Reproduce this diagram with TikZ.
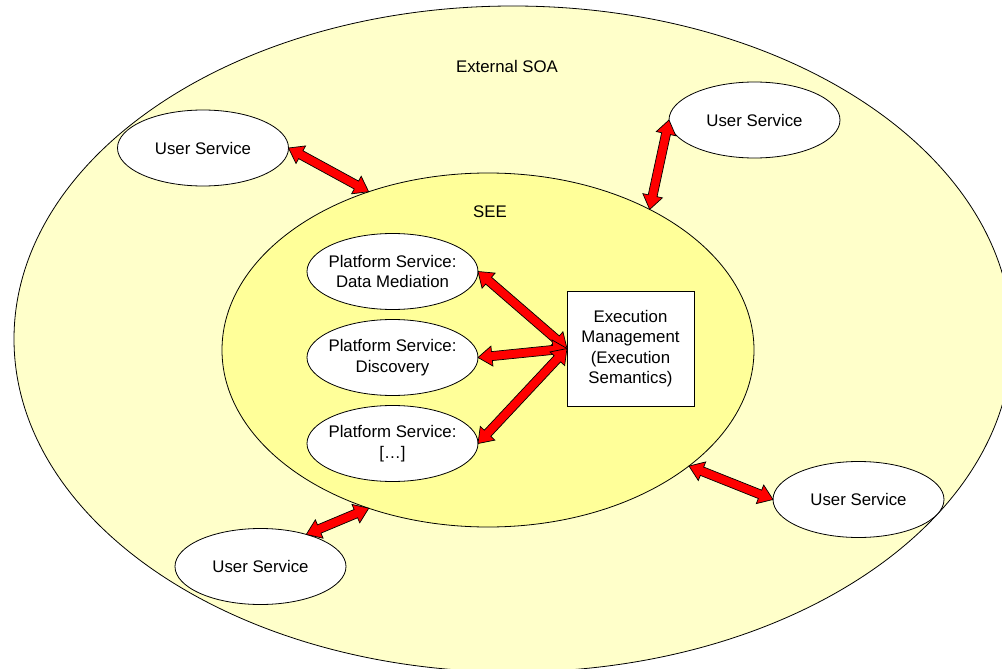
\documentclass[tikz,border=0pt]{standalone}
\usepackage{fontspec}
\setmainfont{Liberation Sans}
\usetikzlibrary{shapes.geometric,calc}
\definecolor{soafill}{HTML}{FFFFCA}
\definecolor{seefill}{HTML}{FFFF99}
\tikzset{
  txt/.style={font=\fontsize{16.8}{20.5}\selectfont, align=center, inner sep=0pt},
  oval/.style={ellipse, draw=black, line width=0.8pt, fill=white, inner sep=0pt, outer sep=0pt,
               minimum width=171pt, minimum height=76pt},
  fatarrow/.style={draw=black, line width=0.7pt, fill=red, line join=miter}
}
\newcommand\fatarrow[2]{%
  \path[fatarrow] let \p1=(#1), \p2=(#2),
    \n1={atan2(\y2-\y1,\x2-\x1)}, \n2={veclen(\x2-\x1,\y2-\y1)} in
    [shift={(\p1)}, rotate=\n1]
    (0pt,0pt) -- (14pt,10pt) -- (14pt,4.5pt) -- (\n2-14pt,4.5pt) -- (\n2-14pt,10pt) -- (\n2,0pt)
    -- (\n2-14pt,-10pt) -- (\n2-14pt,-4.5pt) -- (14pt,-4.5pt) -- (14pt,-10pt) -- cycle;}
\begin{document}
\begin{tikzpicture}[x=1pt,y=-1pt]
\useasboundingbox (0,0) rectangle (1002,669);
\clip (0,0) rectangle (1002,669);
\fill[white] (0,0) rectangle (1002,669);
% outer SOA
\node[ellipse, draw=black, line width=0.8pt, fill=soafill, inner sep=0pt,
      minimum width=998pt, minimum height=666pt] (soa) at (513,339) {};
\node[txt] (soalbl) at (507,66) {External SOA};
% SEE
\node[ellipse, draw=black, line width=0.8pt, fill=seefill, inner sep=0pt, outer sep=0pt,
      minimum width=532pt, minimum height=354pt] (see) at (488,350) {};
\node[txt] (seelbl) at (490,212) {SEE};
% user services
\node[oval, label={[txt]center:User Service}] (us1) at (203,148) {};
\node[oval, label={[txt]center:User Service}] (us2) at (754.5,120) {};
\node[oval, label={[txt]center:User Service}] (us3) at (858.5,499.5) {};
\node[oval, label={[txt]center:User Service}] (us4) at (260.5,566.5) {};
% platform services
\node[oval, label={[txt]center:Platform Service:\\Data Mediation}] (pdm) at (392.5,271.5) {};
\node[oval, label={[txt]center:Platform Service:\\Discovery}] (pdi) at (392.5,357.5) {};
\node[oval, label={[txt]center:{Platform Service:\\{[…]}}}] (pot) at (392.5,443.5) {};
% execution management
\node[draw=black, line width=0.8pt, fill=white, inner sep=0pt, outer sep=0pt,
      minimum width=127pt, minimum height=115pt] (em) at (630.5,348.5) {};
\node[txt] (emlbl) at (em.center) {Execution\\Management\\(Execution\\Semantics)};
% arrows
\fatarrow{us1.east}{see.127}
\fatarrow{us2.west}{see.41}
\fatarrow{us3.west}{see.-30}
\fatarrow{us4.35}{see.-127.5}
\fatarrow{pdm.east}{em.west}
\fatarrow{pdi.east}{em.west}
\fatarrow{pot.east}{em.west}
\end{tikzpicture}
\end{document}
